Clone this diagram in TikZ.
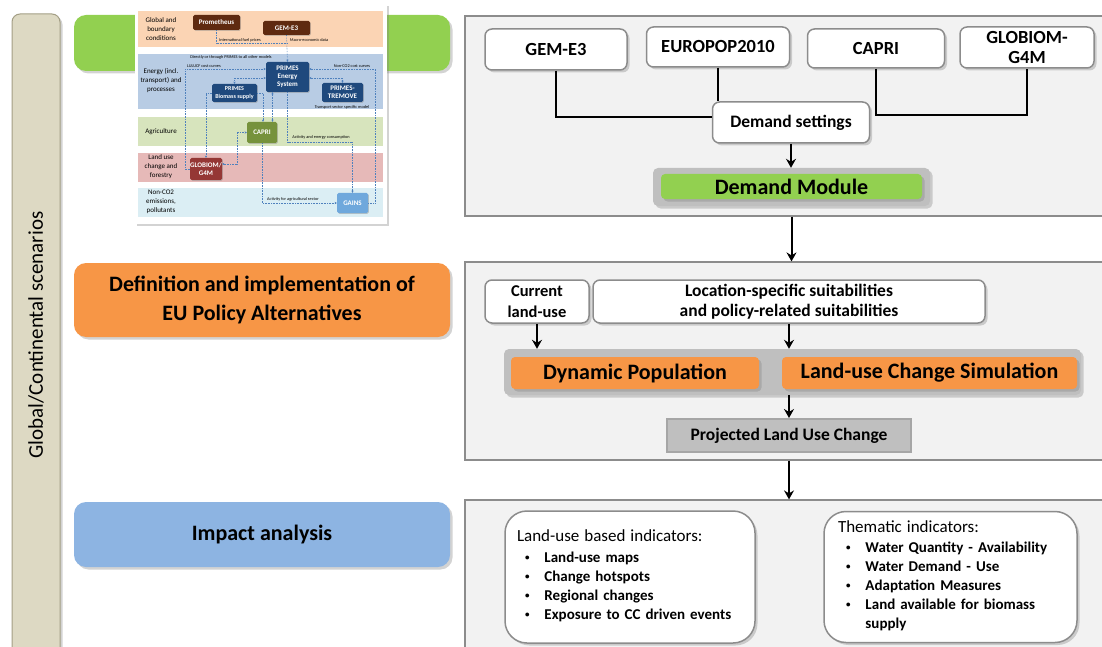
\documentclass[tikz,border=0pt]{standalone}
\usepackage{graphicx}
\usepackage{fontspec}
\setmainfont{Carlito}
\usetikzlibrary{arrows.meta,shadows}

\definecolor{panelgray}{HTML}{F2F2F2}
\definecolor{framegray}{HTML}{8C8C8C}
\definecolor{phasegreen}{HTML}{92D050}
\definecolor{phaseorange}{HTML}{F79646}
\definecolor{phaseblue}{HTML}{8DB4E2}
\definecolor{scenbeige}{HTML}{DDD9C3}
\definecolor{scenedge}{HTML}{A39E85}
\definecolor{modgray}{HTML}{BFBFBF}
\definecolor{modedge}{HTML}{A6A6A6}
\definecolor{bandpeach}{HTML}{FBD4B4}
\definecolor{bandblue}{HTML}{B8CCE4}
\definecolor{bandgreen}{HTML}{D7E4BD}
\definecolor{bandpink}{HTML}{E6B9B8}
\definecolor{bandcyan}{HTML}{DBEEF4}
\definecolor{mbrown}{HTML}{5F2A10}
\definecolor{mnavy}{HTML}{1F497D}
\definecolor{molive}{HTML}{76923C}
\definecolor{mred}{HTML}{953735}
\definecolor{msky}{HTML}{6FA8DC}
\definecolor{mdot}{HTML}{4F81BD}

\newcommand{\dotitem}{\raisebox{0.2ex}{\scalebox{0.6}{\textbullet}}}

\begin{document}
\begin{tikzpicture}[
        x=1pt, y=-1pt,
        boxshadow/.style={drop shadow={shadow xshift=2.5pt, shadow yshift=-2.5pt, opacity=0.35}},
        scenbox/.style={draw=scenedge, fill=scenbeige, rounded corners=8pt, line width=1pt, boxshadow, font=\fontsize{21}{22}\selectfont},
        phase/.style={rounded corners=12pt, minimum width=376pt, boxshadow, align=center, font=\bfseries\fontsize{22}{29}\selectfont},
        panel/.style={draw=framegray, fill=panelgray, line width=1.2pt, minimum width=645pt},
        wbox/.style={draw=framegray, fill=white, rounded corners=7pt, line width=1.5pt, boxshadow, inner sep=0pt, align=center, font=\bfseries\fontsize{18.5}{20}\selectfont},
        ibox/.style={draw=framegray, fill=white, rounded corners=22pt, line width=1.5pt, boxshadow, inner xsep=12pt, align=left, font=\bfseries\fontsize{15}{19}\selectfont},
        outerbox/.style={fill=modgray, rounded corners=5pt, inner sep=0pt, boxshadow},
        innerbox/.style={rounded corners=4pt, inner sep=0pt, boxshadow, font=\bfseries\fontsize{22}{24}\selectfont},
        link/.style={line width=2pt},
        arrow/.style={-{Stealth[length=9pt,width=10pt,inset=3pt]}, line width=2pt},
        band/.style={minimum width=245pt, inner sep=0pt},
        mbox/.style={rounded corners=1.5pt, inner sep=0pt, text=white, align=center, drop shadow={shadow xshift=0.8pt, shadow yshift=-0.8pt, opacity=0.4}, font=\bfseries\fontsize{7}{8}\selectfont},
        mlabel/.style={align=center, font=\fontsize{7}{9}\selectfont},
        mnote/.style={inner sep=0.5pt, font=\fontsize{4.3}{5}\selectfont},
        mlink/.style={densely dotted, mdot, line width=0.6pt, >={Stealth[length=2.2pt,width=2.2pt]}}
    ]
        \useasboundingbox (0,0) rectangle (1102,647);
        \clip (0,0) rectangle (1102,647);

        % Scenario column
        \node[scenbox, rotate=90, minimum width=642pt, minimum height=48pt] (scen) at (36,335) {Global/Continental scenarios};

        % Phases
        \node[phase, fill=phasegreen, minimum height=56pt] (demandphase) at (262,43) {};
        \node[phase, fill=phaseorange, minimum height=74pt] (policy) at (262,300) {Definition and implementation of\\EU Policy Alternatives};
        \node[phase, fill=phaseblue, minimum height=65pt] (impact) at (262,534.5) {Impact analysis};

        % Model chain thumbnail
        \node[fill=white, boxshadow, minimum width=252pt, minimum height=220pt] (mini) at (260.5,113.5) {};
        \node[band, fill=bandpeach, minimum height=36pt] (b1) at (260.5,29) {};
        \node[band, fill=bandblue, minimum height=55pt] (b2) at (260.5,81.5) {};
        \node[band, fill=bandgreen, minimum height=29pt] (b3) at (260.5,131.5) {};
        \node[band, fill=bandpink, minimum height=29pt] (b4) at (260.5,167.5) {};
        \node[band, fill=bandcyan, minimum height=29pt] (b5) at (260.5,202.5) {};

        \node[mlabel] (l1) at (161,29) {Global and\\boundary\\conditions};
        \node[mlabel] (l2) at (161,81) {Energy (incl.\\transport) and\\processes};
        \node[mlabel] (l3) at (161,132) {Agriculture};
        \node[mlabel] (l4) at (161,167) {Land use\\change and\\forestry};
        \node[mlabel] (l5) at (161,202) {Non-CO2\\emissions,\\pollutants};

        \node[mbox, fill=mbrown, minimum width=47pt, minimum height=15pt] (prom) at (216.5,22.5) {Prometheus};
        \node[mbox, fill=mbrown, minimum width=47pt, minimum height=14pt] (mgem) at (286.5,28) {GEM-E3};
        \node[mbox, fill=mnavy, minimum width=43pt, minimum height=30pt] (mprimes) at (287.5,77) {PRIMES\\Energy\\System};
        \node[mbox, fill=mnavy, minimum width=45pt, minimum height=18pt, font=\bfseries\fontsize{6}{7.5}\selectfont] (mbio) at (234.5,93) {PRIMES\\Biomass supply};
        \node[mbox, fill=mnavy, minimum width=41pt, minimum height=19pt] (mtrem) at (342.5,92.5) {PRIMES-\\TREMOVE};
        \node[mbox, fill=molive, minimum width=30pt, minimum height=21pt] (mcapri) at (262,132.5) {CAPRI};
        \node[mbox, fill=mred, minimum width=32pt, minimum height=22pt] (mglob) at (206,169) {GLOBIOM/\\G4M};
        \node[mbox, fill=msky, minimum width=31pt, minimum height=20pt] (mgains) at (352.5,203) {GAINS};

        \node[mnote] (n1) at (240,40) {International fuel prices};
        \node[mnote] (n2) at (309,40) {Macro-economic data};
        \node[mnote] (n3) at (231,57) {Directly or through PRIMES to all other models};
        \node[mnote] (n4) at (204,66) {LULUCF cost curves};
        \node[mnote] (n5) at (352,66) {Non-CO2 cost curves};
        \node[mnote] (n6) at (342,107) {Transport sector specific model};
        \node[mnote] (n7) at (321,137.5) {Activity and energy consumption};
        \node[mnote] (n8) at (293,199) {Activity for agricultural sector};

        \coordinate (mj) at (287,43);
        \draw[mlink] (prom.south) |- (mj);
        \draw[mlink, ->] (mgem.south) -- (mprimes.north);
        \draw[mlink, ->] (mglob.west) -- ++(-5,0) |- ([yshift=8pt]mprimes.west);
        \draw[mlink, ->] (mgains.east) -- ++(7,0) |- ([yshift=8pt]mprimes.east);
        \draw[mlink, <->] ([yshift=-1pt]mprimes.west) -| (mbio.north);
        \draw[mlink, <->] ([yshift=-1pt]mprimes.east) -| (mtrem.north);
        \draw[mlink, ->] (mbio.east) -| ([xshift=1pt]mcapri.north);
        \draw[mlink, <->] ([xshift=-15pt]mprimes.south) -- ([xshift=-15pt]mprimes.south |- mcapri.north);
        \draw[mlink, ->] (mbio.west) -| (mglob.north);
        \draw[mlink, <->] (mcapri.west) -- ++(-10,0) |- ([yshift=5pt]mglob.east);
        \draw[mlink, ->] (mprimes.south) -- ++(0,50) -| (mgains.north);
        \draw[mlink, ->] (mcapri.south) |- (mgains.west);

        % Panels
        \node[panel, minimum height=200pt] (p1) at (787.5,116) {};
        \node[panel, minimum height=198pt] (p2) at (787.5,361) {};
        \node[panel, minimum height=160pt] (p3) at (787.5,580) {};

        % Demand module
        \node[wbox, minimum width=142pt, minimum height=41pt] (gem) at (556,49.5) {GEM-E3};
        \node[wbox, minimum width=143pt, minimum height=40pt] (europop) at (718,47) {EUROPOP2010};
        \node[wbox, minimum width=137pt, minimum height=39pt] (capri) at (876,48.5) {CAPRI};
        \node[wbox, minimum width=134pt, minimum height=41pt] (globiom) at (1027,47.5) {GLOBIOM-\\G4M};
        \node[wbox, minimum width=157pt, minimum height=41pt, font=\bfseries\fontsize{17.5}{20}\selectfont] (settings) at (791,122.5) {Demand settings};
        \node[outerbox, minimum width=277pt, minimum height=38pt] (modout) at (791.5,187) {};
        \node[innerbox, fill=phasegreen, minimum width=261pt, minimum height=25pt] (module) at (791.5,186.5) {Demand Module};

        \coordinate (join) at (0,115);
        \draw[link] (gem.south) |- ([yshift=5.5pt]settings.west);
        \draw[link] (europop.south) -- (europop.south |- settings.north);
        \draw[link] (capri.south) -- (capri.south |- join) -| (globiom.south);
        \draw[arrow] (settings.south) -- (settings.south |- modout.north);
        \draw[arrow] (modout.south |- p1.south) -- (modout.south |- p2.north);

        % Land-use simulation
        \node[wbox, minimum width=104pt, minimum height=43pt, font=\bfseries\fontsize{16.5}{21}\selectfont] (current) at (537,301.5) {Current\\land-use};
        \node[wbox, minimum width=392pt, minimum height=43pt, font=\bfseries\fontsize{17.5}{20}\selectfont] (location) at (789,301.5) {Location-specific suitabilities\\and policy-related suitabilities};
        \node[outerbox, minimum width=577pt, minimum height=46pt] (simout) at (792.5,372) {};
        \node[innerbox, fill=phaseorange, minimum width=248pt, minimum height=32pt] (dynpop) at (635,373) {Dynamic Population};
        \node[innerbox, fill=phaseorange, minimum width=295pt, minimum height=32pt] (lucs) at (929.5,373) {Land-use Change Simulation};
        \node[draw=modedge, fill=modgray, line width=2pt, minimum width=244pt, minimum height=33pt, font=\bfseries\fontsize{17.5}{20}\selectfont] (projected) at (789,435.5) {Projected Land Use Change};

        \draw[arrow] (current.south) -- (current.south |- simout.north);
        \draw[arrow] (location.south) -- (location.south |- simout.north);
        \draw[arrow] (projected.north |- simout.south) -- (projected.north);
        \draw[arrow] (projected.south |- p2.south) -- (projected.south |- p3.north);

        % Indicators
        \node[ibox, minimum width=250pt, minimum height=132pt, text width=226pt] (lubased) at (630,577) {%
            {\mdseries\fontsize{17}{22}\selectfont Land-use based indicators:}\\[2pt]
            \begin{tabular}[t]{@{\hspace{8pt}}l@{\hspace{15pt}}l@{}}
                \dotitem & Land-use maps\\
                \dotitem & Change hotspots\\
                \dotitem & Regional changes\\
                \dotitem & Exposure to CC driven events
            \end{tabular}};
        \node[ibox, minimum width=253pt, minimum height=131pt, text width=225pt, inner xsep=14pt] (thematic) at (950.5,577) {%
            {\mdseries\fontsize{17}{22}\selectfont Thematic indicators:}\\[1pt]
            \begin{tabular}[t]{@{\hspace{8pt}}l@{\hspace{15pt}}l@{}}
                \dotitem & Water Quantity - Availability\\
                \dotitem & Water Demand - Use\\
                \dotitem & Adaptation Measures\\
                \dotitem & Land available for biomass\\
                & supply
            \end{tabular}};
    \end{tikzpicture}
\end{document}
